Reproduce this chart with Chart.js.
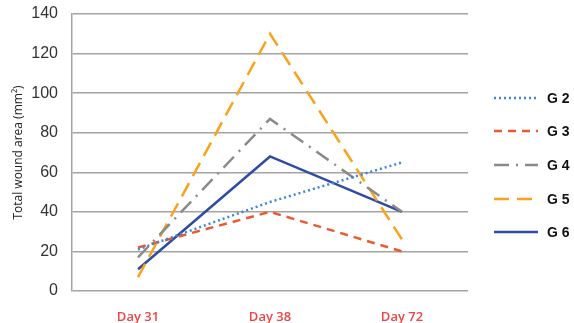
<!DOCTYPE html>
<html>
<head>
<meta charset="utf-8">
<script src="https://cdn.jsdelivr.net/npm/chart.js@4"></script>
<style>
  html, body { margin: 0; padding: 0; background: #fff; }
  #wrap { width: 574px; height: 323px; position: relative; }
</style>
</head>
<body>
<div id="wrap"><canvas id="c" width="574" height="323"></canvas></div>
<script>
const days = ['Day 31', 'Day 38', 'Day 72'];
const g2 = [21, 45, 65];
const g3 = [22, 40, 20];
const g4 = [17, 87, 40];
const g5 = [7, 130, 26];
const g6 = [11, 68, 40];
const seriesNames = ['G 2', 'G 3', 'G 4', 'G 5', 'G 6'];

const styles = [
  { color: '#3d86d4', dash: [2, 3] },
  { color: '#ea5a2e', dash: [8, 6] },
  { color: '#8a8a8a', dash: [15, 7, 2, 7] },
  { color: '#f8a31a', dash: [15, 8] },
  { color: '#2e4ca6', dash: [] }
];

const values = [g2, g3, g4, g5, g6];
const datasets = values.map((v, i) => ({
  label: seriesNames[i],
  data: v,
  borderColor: styles[i].color,
  backgroundColor: styles[i].color,
  borderDash: styles[i].dash,
  borderWidth: 2.5,
  pointRadius: 0,
  tension: 0,
  fill: false
}));

// Legend drawn at the right of the plot, one row per series
const sideLegend = {
  id: 'sideLegend',
  afterDraw(chart) {
    const ctx = chart.ctx;
    const rows = [98, 131, 165, 199, 232];
    chart.data.datasets.forEach((ds, i) => {
      const y = rows[i];
      ctx.save();
      ctx.strokeStyle = ds.borderColor;
      ctx.lineWidth = 2.5;
      ctx.setLineDash(ds.borderDash);
      ctx.beginPath();
      ctx.moveTo(494, y);
      ctx.lineTo(538, y);
      ctx.stroke();
      ctx.setLineDash([]);
      ctx.fillStyle = '#111';
      ctx.font = 'bold 14px "Liberation Sans", Arial, sans-serif';
      ctx.textBaseline = 'middle';
      ctx.textAlign = 'left';
      ctx.fillText(ds.label, 547, y + 1);
      ctx.restore();
    });
  }
};

new Chart(document.getElementById('c'), {
  type: 'line',
  data: { labels: days, datasets },
  options: {
    responsive: false,
    animation: false,
    layout: { padding: { top: 14, right: 106, left: 0, bottom: 0 } },
    plugins: { legend: { display: false }, tooltip: { enabled: false } },
    scales: {
      x: {
        offset: true,
        grid: { display: false, drawTicks: false },
        border: { display: false },
        ticks: {
          color: '#ee4444',
          padding: 18,
          font: { family: '"Open Sans", "DejaVu Sans", sans-serif', size: 13, weight: '600' }
        },
        afterFit(scale) { scale.height = 32; scale.paddingLeft = 0; scale.paddingRight = 0; }
      },
      y: {
        min: 0,
        max: 140,
        ticks: {
          stepSize: 20,
          color: '#333',
          padding: 14,
          font: { family: '"Liberation Sans", Arial, sans-serif', size: 16 }
        },
        grid: { color: '#a3a3a3', lineWidth: 1.5, drawTicks: false },
        border: { display: true, color: '#a3a3a3', width: 1.5 },
        title: {
          display: true,
          text: 'Total wound area (mm²)',
          color: '#222',
          padding: { top: 11, bottom: 0 },
          font: { family: '"Open Sans", "DejaVu Sans", sans-serif', size: 12 }
        },
        afterFit(scale) { scale.width = 72; scale.paddingTop = 0; scale.paddingBottom = 0; }
      }
    }
  },
  plugins: [sideLegend]
});
</script>
</body>
</html>
